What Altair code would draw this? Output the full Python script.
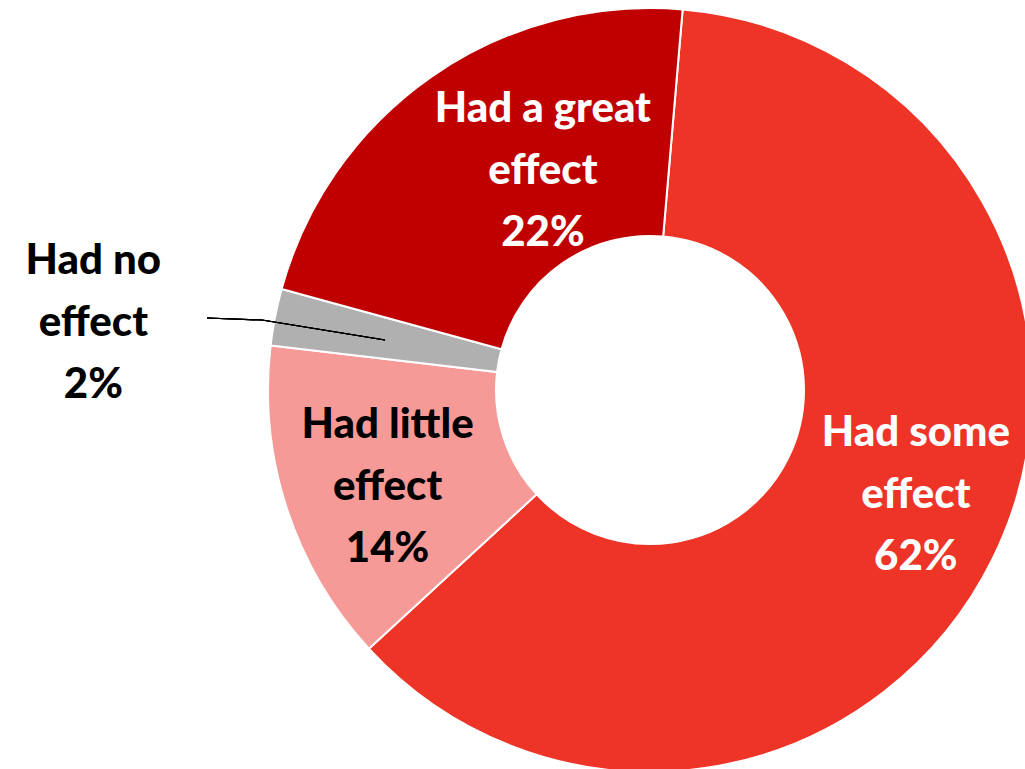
import math
import altair as alt
import pandas as pd

categories = ["Had some effect", "Had little effect", "Had no effect", "Had a great effect"]
values = [61.8, 13.7, 2.4, 22.1]
labels = ["Had some\neffect\n62%", "Had little\neffect\n14%", "Had no\neffect\n2%", "Had a great\neffect\n22%"]
colors = ["#EE3427", "#F69A98", "#B0B0B0", "#C00000"]
text_colors = ["white", "black", "black", "white"]

df = pd.DataFrame({
    "category": categories,
    "value": values,
    "label": labels,
    "order": list(range(len(categories))),
})

start = math.radians(4.9)
theta_scale = alt.Scale(range=[start, start + 2 * math.pi])
CX, CY = 650, 390
LH = 62

base = alt.Chart(df).encode(
    theta=alt.Theta("value:Q", stack=True, scale=theta_scale),
    order=alt.Order("order:Q"),
    x=alt.value(CX),
    y=alt.value(CY),
)

arcs = base.mark_arc(radius=382, radius2=154, stroke="white", strokeWidth=2).encode(
    color=alt.Color("category:N", scale=alt.Scale(domain=categories, range=colors), legend=None)
)

# label placement: radius and offsets per category
label_pos = {
    "Had some effect": (285, 10, -21),
    "Had little effect": (279, 3, 11),
    "Had no effect": (561, -6, 40),
    "Had a great effect": (245, 33, -18),
}

layers = [arcs]
for cat, tcol in zip(categories, text_colors):
    r, dx, dy = label_pos[cat]
    t = base.mark_text(
        radius=r, dx=dx, dy=dy - LH, font="Lato", fontWeight=900, fontSize=42,
        lineBreak="\n", lineHeight=LH, align="center", baseline="middle", color=tcol,
    ).encode(
        text="label:N",
        opacity=alt.condition(f"datum.category == '{cat}'", alt.value(1), alt.value(0)),
    )
    layers.append(t)

leader1 = alt.Chart(df).mark_rule(color="black", strokeWidth=1.2).encode(
    x=alt.value(207), y=alt.value(318), x2=alt.value(262), y2=alt.value(320)
)
leader2 = alt.Chart(df).mark_rule(color="black", strokeWidth=1.2).encode(
    x=alt.value(262), y=alt.value(320), x2=alt.value(385), y2=alt.value(340)
)
layers += [leader1, leader2]

chart = alt.layer(*layers).properties(
    width=1025, height=769, padding=0,
    autosize=alt.AutoSizeParams(type="none"),
).configure_view(stroke=None)

chart.save("out.html", embed_options={"renderer": "svg", "actions": False})
